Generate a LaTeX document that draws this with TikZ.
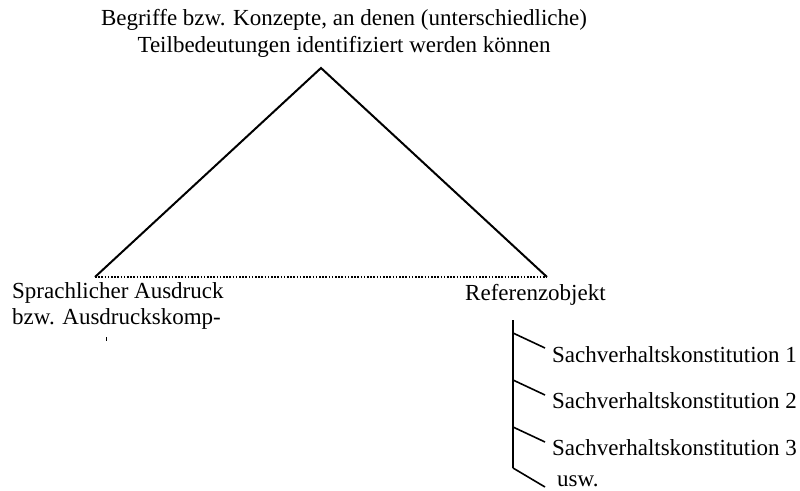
\documentclass[tikz,border=0pt]{standalone}
\usepackage{fontspec}
\setmainfont{Liberation Serif}
\begin{document}
\begin{tikzpicture}[x=1pt,y=-1pt,
  lbl/.style={inner sep=0pt,font=\fontsize{23}{26.5}\selectfont},
  ln/.style={line width=2pt},
  thin/.style={line width=1.6pt}]
\useasboundingbox (0,0) rectangle (800,490);
\node[lbl,align=center,anchor=base] (top) at (344,52) {Begriffe bzw. Konzepte, an denen (unterschiedliche)\\Teilbedeutungen identifiziert werden können};
\coordinate (apex) at (321,68);
\coordinate (L) at (95,277);
\coordinate (R) at (547,277);
\draw[ln] (L) -- (apex) -- (R);
\draw[line width=1.6pt,dash pattern=on 1.6pt off 1.6pt] (L) -- (R);
\node[lbl,align=left,anchor=north west] (expr) at (12,282) {Sprachlicher Ausdruck\\bzw. Ausdruckskomp-};
\draw[line width=0.8pt] (106,337) -- (106,341);
\node[lbl,anchor=base west] (ref) at (465,300) {Referenzobjekt};
\coordinate (vt) at (513,320);
\coordinate (vb) at (513,468);
\draw[thin] (vt) -- (vb);
\coordinate (b1) at (513,333);
\coordinate (b2) at (513,380);
\coordinate (b3) at (513,427);
\coordinate (e1) at (545,348);
\coordinate (e2) at (545,395);
\coordinate (e3) at (545,442);
\coordinate (e4) at (545,487);
\draw[thin] (b1) -- (e1);
\draw[thin] (b2) -- (e2);
\draw[thin] (b3) -- (e3);
\draw[thin] (vb) -- (e4);
\node[lbl,anchor=base west] (s1) at (552,362) {Sachverhaltskonstitution 1};
\node[lbl,anchor=base west] (s2) at (552,408) {Sachverhaltskonstitution 2};
\node[lbl,anchor=base west] (s3) at (552,455) {Sachverhaltskonstitution 3};
\node[lbl,anchor=base west] (usw) at (557,486) {usw.};
\end{tikzpicture}
\end{document}
